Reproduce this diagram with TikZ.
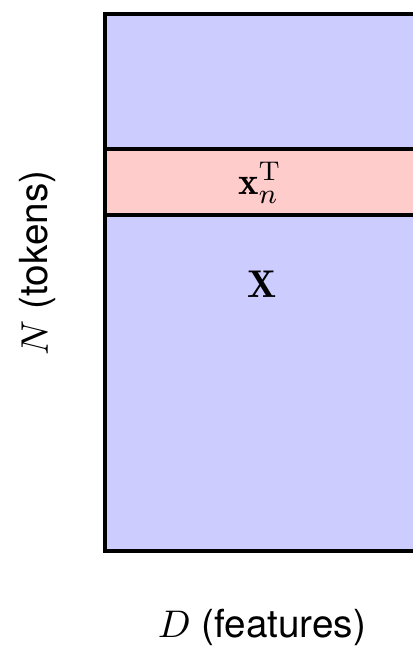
\documentclass[tikz,border=0pt]{standalone}
\usepackage{amsmath}
\usepackage{fontspec}
\setsansfont{TeX Gyre Heros}
\usetikzlibrary{positioning}

\begin{document}
\begin{tikzpicture}[
  x=0.01cm, y=-0.01cm,
  every node/.style={font=\fontsize{11}{13}\selectfont},
  matfill/.style={fill=blue!20, draw=black, line width=1.2pt},
  rowfill/.style={fill=red!20, draw=black, line width=1.2pt},
  axislabel/.style={font=\fontsize{11}{13}\selectfont\sffamily}
]
\useasboundingbox (0,0) rectangle (413,647);
\clip (0,0) rectangle (413,647);
% data matrix, cut at the right edge
\draw[matfill] (105,14) rectangle (440,551);
\draw[rowfill] (105,149) rectangle (440,215);
\node (xn) at (260,183) {$\mathbf{x}_n^{\mathrm{T}}$};
\node (X) at (262,284) {$\mathbf{X}$};
% axis labels
\node[axislabel, rotate=90] (tokens) at (38,263) {$N$ (tokens)};
\node[axislabel] (features) at (262,627) {$D$ (features)};
\end{tikzpicture}
\end{document}
